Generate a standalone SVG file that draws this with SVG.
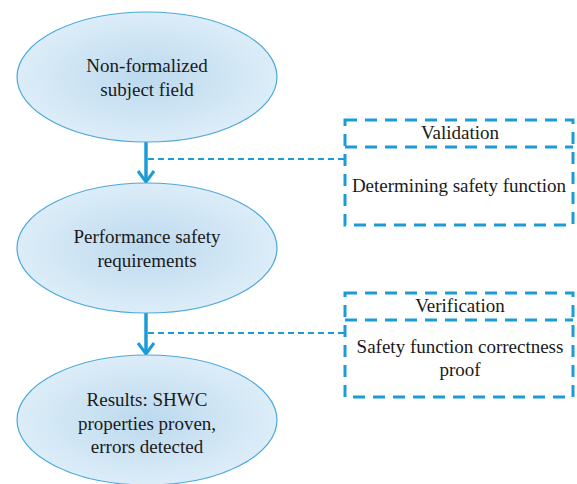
<svg xmlns="http://www.w3.org/2000/svg" width="577" height="484" viewBox="0 0 577 484">
<defs>
<radialGradient id="g" cx="50%" cy="50%" r="50%">
<stop offset="0" stop-color="#bcd9ee"/>
<stop offset="1" stop-color="#dcedf8"/>
</radialGradient>
<style>
.n{fill:url(#g);stroke:#4aa8dc;stroke-width:1.2}
.t{font-family:'Liberation Serif','Times New Roman',serif;font-size:19px;fill:#1a1a1a;text-anchor:middle}
.box{fill:none;stroke:#1d9bd7;stroke-width:3;stroke-dasharray:12 8}
.arr{stroke:#1d9bd7;stroke-width:3.5;fill:none}
.ah{fill:none;stroke:#1d9bd7;stroke-width:3}
.dl{stroke:#1d9bd7;stroke-width:1.8;stroke-dasharray:6 4;fill:none}
</style>
</defs>
<rect width="577" height="484" fill="#ffffff"/>
<g id="connectors">
<line class="arr" x1="146" y1="142" x2="146" y2="181"/>
<path class="ah" d="M138,171 L146,182 L154,171"/>
<line class="arr" x1="146" y1="313" x2="146" y2="353"/>
<path class="ah" d="M138,343 L146,354 L154,343"/>
<path class="dl" d="M148,159 H345"/>
<path class="dl" d="M148,333 H345"/>
</g>
<g id="n1">
<ellipse class="n" cx="147" cy="77" rx="130" ry="65"/>
<text class="t" x="147" y="72">Non-formalized</text>
<text class="t" x="147" y="96">subject field</text>
</g>
<g id="n2">
<ellipse class="n" cx="147" cy="248" rx="130" ry="65"/>
<text class="t" x="147" y="243">Performance safety</text>
<text class="t" x="147" y="267">requirements</text>
</g>
<g id="n3">
<ellipse class="n" cx="147" cy="420" rx="130" ry="65"/>
<text class="t" x="147" y="406">Results: SHWC</text>
<text class="t" x="147" y="430">properties proven,</text>
<text class="t" x="147" y="453">errors detected</text>
</g>
<g id="validation">
<rect class="box" x="345" y="120" width="228" height="105"/>
<line class="box" x1="345" y1="147" x2="573" y2="147"/>
<text class="t" x="460" y="139">Validation</text>
<text class="t" x="459" y="192">Determining safety function</text>
</g>
<g id="verification">
<rect class="box" x="345" y="293" width="228" height="104"/>
<line class="box" x1="345" y1="320" x2="573" y2="320"/>
<text class="t" x="460" y="312">Verification</text>
<text class="t" x="460" y="353">Safety function correctness</text>
<text class="t" x="460" y="376">proof</text>
</g>
</svg>
